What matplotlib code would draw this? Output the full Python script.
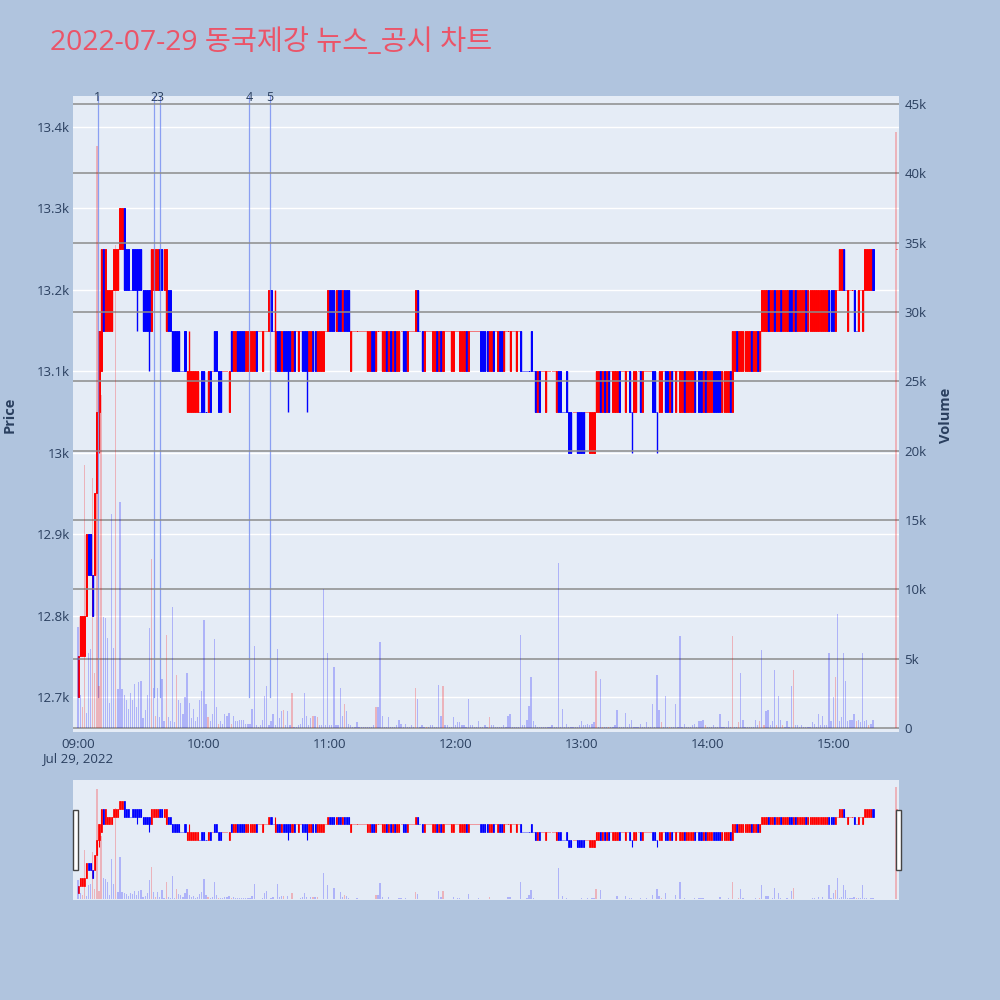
import matplotlib
matplotlib.use("Agg")
import matplotlib.pyplot as plt
from matplotlib.patches import Rectangle

plt.rcParams['font.family'] = ['Open Sans', 'Noto Sans CJK KR', 'DejaVu Sans']

# 1-minute candles from 09:00 (index = minutes after 09:00)
opens = [
    12700,12750,12750,12750,12800,12900,12900,12850,12850,12950,13050,13100,13250,13150,13150,13150,13150,13200,13200,13200,
    13250,13250,13300,13250,13250,13200,13250,13250,13250,13250,13250,13200,13200,13200,13200,13150,13200,13200,13200,13250,
    13250,13200,13150,13200,13200,13150,13150,13150,13150,13100,13100,13150,13050,13050,13050,13050,13050,13050,13050,13100,
    13100,13050,13050,13100,13100,13150,13150,13100,13100,13100,13100,13100,13050,13150,13100,13100,13150,13150,13150,13150,
    13100,13100,13100,13100,13100,13150,13150,13150,13100,13150,13150,13150,13200,13150,13100,13150,13150,13100,13150,13150,
    13150,13150,13100,13150,13150,13100,13150,13150,13150,13150,13100,13100,13150,13150,13100,13100,13100,13100,13150,13150,
    13200,13200,13200,13150,13200,13200,13150,13200,13200,13200,13100,13150,13150,13150,13150,13150,13150,13150,13100,13100,
    13150,13150,13100,13150,13150,13100,13100,13150,13100,13150,13100,13150,13100,13100,13150,13150,13150,13100,13150,13150,
    13150,13150,13200,13150,13150,13100,13150,13150,13150,13100,13100,13150,13100,13150,13100,13150,13150,13150,13100,13100,
    13150,13150,13100,13100,13100,13150,13100,13150,13150,13150,13150,13150,13150,13150,13150,13150,13100,13100,13150,13150,
    13100,13150,13150,13100,13150,13150,13100,13150,13150,13100,13150,13150,13100,13100,13100,13100,13150,13100,13100,13050,
    13100,13100,13100,13050,13100,13100,13100,13100,13050,13100,13100,13050,13050,13100,13050,13050,13050,13050,13050,13050,
    13050,13050,13050,13050,13000,13000,13000,13050,13050,13100,13050,13100,13050,13100,13100,13050,13050,13050,13100,13100,
    13100,13050,13100,13100,13050,13050,13050,13100,13100,13050,13100,13100,13100,13100,13100,13100,13050,13050,13050,13100,
    13100,13100,13050,13100,13100,13050,13100,13050,13050,13100,13050,13050,13050,13050,13100,13100,13100,13100,13050,13100,
    13050,13050,13050,13100,13100,13100,13100,13050,13050,13050,13050,13100,13050,13100,13150,13100,13100,13100,13100,13100,
    13100,13150,13100,13100,13150,13100,13150,13150,13150,13200,13150,13150,13200,13150,13150,13200,13150,13150,13150,13200,
    13200,13150,13200,13150,13150,13150,13150,13200,13150,13150,13150,13150,13150,13150,13150,13150,13150,13150,13200,13200,
    13200,13150,13200,13200,13200,13250,13200,13150,13200,13200,13200,13150,13150,13200,13150,13200,13200,13200,13200,13250,
]
closes = [
    12750,12800,12800,12800,12900,12850,12850,12800,12950,13050,13150,13250,13150,13250,13200,13200,13200,13250,13250,13250,
    13300,13300,13200,13200,13200,13200,13200,13200,13200,13200,13200,13150,13150,13150,13150,13250,13250,13250,13250,13200,
    13200,13250,13250,13150,13150,13100,13100,13100,13100,13100,13100,13100,13100,13100,13100,13100,13100,13100,13050,13050,
    13050,13050,13100,13050,13100,13100,13100,13050,13050,13100,13100,13100,13100,13100,13150,13150,13100,13100,13100,13100,
    13150,13150,13150,13150,13150,13100,13150,13150,13150,13150,13150,13200,13150,13150,13150,13100,13100,13150,13100,13100,
    13100,13100,13150,13100,13150,13150,13150,13100,13100,13100,13150,13150,13100,13100,13150,13150,13150,13150,13150,13200,
    13150,13150,13150,13200,13150,13150,13200,13150,13150,13150,13150,13150,13150,13150,13150,13150,13150,13150,13150,13150,
    13100,13100,13150,13150,13150,13150,13150,13100,13150,13100,13150,13100,13150,13150,13150,13100,13100,13150,13150,13150,
    13150,13200,13150,13150,13100,13150,13150,13150,13150,13150,13150,13100,13150,13100,13150,13150,13150,13150,13150,13150,
    13150,13150,13150,13150,13150,13100,13150,13150,13150,13150,13150,13150,13100,13100,13100,13100,13150,13150,13100,13150,
    13150,13100,13100,13150,13150,13150,13150,13150,13150,13150,13150,13100,13100,13100,13100,13100,13100,13100,13050,13100,
    13050,13100,13100,13100,13100,13100,13100,13100,13100,13050,13050,13050,13050,13050,13000,13000,13050,13050,13000,13000,
    13000,13000,13050,13050,13050,13050,13050,13100,13100,13050,13100,13050,13100,13050,13100,13100,13100,13100,13050,13100,
    13100,13100,13100,13050,13050,13100,13100,13100,13050,13100,13100,13100,13100,13100,13050,13050,13050,13100,13100,13100,
    13050,13050,13100,13050,13100,13100,13100,13100,13100,13050,13100,13100,13100,13100,13050,13100,13050,13050,13100,13050,
    13100,13100,13100,13050,13050,13050,13050,13100,13100,13100,13100,13050,13150,13150,13100,13150,13150,13150,13150,13150,
    13150,13100,13150,13150,13100,13150,13200,13200,13200,13150,13200,13200,13150,13200,13200,13150,13200,13200,13200,13150,
    13150,13200,13150,13200,13200,13200,13200,13150,13200,13200,13200,13200,13200,13200,13200,13200,13200,13200,13150,13150,
    13150,13200,13200,13250,13250,13200,13200,13200,13200,13200,13150,13150,13200,13200,13200,13250,13250,13250,13250,13200,
]
volumes = [
    7300,2400,1500,19000,1100,5400,5700,18000,4000,42000,3000,24000,8000,7900,6500,1800,15400,5800,34800,2800,
    16300,2800,2400,2000,1400,2500,2000,3200,1500,3300,3400,700,1300,2400,7200,12200,2900,900,2900,800,
    3500,500,6700,800,500,8700,400,3800,2000,1800,1000,2200,4000,1800,700,1400,500,800,2000,2700,
    7800,1700,800,500,1000,6400,1500,300,500,300,1000,900,1100,300,900,500,500,600,600,600,
    300,300,300,1400,5900,200,100,200,600,2300,3000,200,500,1000,200,5700,700,1200,1300,200,
    1200,200,2500,100,100,200,300,700,2500,900,200,700,900,900,800,200,200,10000,200,5400,
    200,200,4400,200,200,2900,900,1700,1200,300,200,100,100,400,100,100,100,100,100,100,
    100,200,1500,1500,6200,900,100,100,800,100,100,100,200,600,300,100,300,100,100,200,
    100,2900,2100,100,200,100,100,100,200,200,100,100,3100,900,3000,200,200,100,100,800,
    200,400,400,200,200,100,2100,200,200,100,100,500,100,100,200,100,800,200,200,100,
    100,100,100,200,100,900,1000,100,100,100,100,6700,200,200,600,1600,3700,500,200,100,
    100,100,100,100,100,100,200,100,100,11900,100,1400,100,300,100,100,100,100,100,200,
    500,200,200,300,200,300,400,4100,100,3500,100,100,100,100,100,100,200,1300,100,100,
    100,1100,100,300,600,100,100,100,300,100,100,400,100,100,1700,100,3800,1300,400,100,
    2300,100,100,100,100,1700,100,6600,100,300,100,100,100,200,300,100,500,500,600,200,
    100,100,100,200,100,100,1000,100,100,100,500,100,6600,100,100,400,4000,600,100,100,
    100,100,100,600,200,500,5600,200,1200,1300,200,500,4200,200,2300,600,200,100,500,100,
    3000,4200,200,200,100,200,100,100,100,100,400,300,100,1000,200,900,200,200,5400,500,
    2200,3700,8200,500,800,5400,3400,500,600,600,1000,500,600,400,5400,500,600,200,300,600,
]
# minutes whose volume bar is drawn red
vol_red = [2, 3, 7, 8, 9, 10, 11, 18, 35, 37, 42, 47, 62, 67, 73, 98, 102, 112, 114, 127,
           142, 161, 166, 174, 196, 247, 250, 253, 278, 282, 299, 312, 315, 325, 327, 333,
           336, 341, 361, 371, 377]
wick_low = {10: 13000, 28: 13150, 34: 13100, 100: 13050, 109: 13050, 264: 13000, 276: 13000}
wick_high = {53: 13150, 94: 13200}

# closing auction 15:30
close_min = 390
close_price = 13250
close_vol = 43000

# news / disclosure markers (minutes after 09:00)
news_min = [9.4, 36.2, 38.9, 81.7, 91.6]
news_lab = ['1', '2', '3', '4', '5']

price_ticks = [12700, 12800, 12900, 13000, 13100, 13200, 13300, 13400]
price_labels = ['12.7k', '12.8k', '12.9k', '13k', '13.1k', '13.2k', '13.3k', '13.4k']
vol_ticks = [0, 5000, 10000, 15000, 20000, 25000, 30000, 35000, 40000, 45000]
vol_labels = ['0', '5k', '10k', '15k', '20k', '25k', '30k', '35k', '40k', '45k']
time_ticks = [0, 60, 120, 180, 240, 300, 360]
time_labels = ['09:00\nJul 29, 2022', '10:00', '11:00', '12:00', '13:00', '14:00', '15:00']

RED = '#FF0000'
BLUE = '#0000FF'
TXT = '#2a3f5f'

n = min(len(opens), len(closes), len(volumes))
xs = list(range(n)) + [close_min]
o_all = opens[:n] + [close_price]
c_all = closes[:n] + [close_price]
v_all = volumes[:n] + [close_vol]
hi = [max(o, c) for o, c in zip(o_all, c_all)]
lo = [min(o, c) for o, c in zip(o_all, c_all)]
for k, v in wick_low.items():
    lo[k] = v
for k, v in wick_high.items():
    hi[k] = v

cols = []
prev_c = None
prev_col = RED
for o, c in zip(o_all, c_all):
    if c > o:
        col = RED
    elif c < o:
        col = BLUE
    elif prev_c is not None and c > prev_c:
        col = RED
    elif prev_c is not None and c < prev_c:
        col = BLUE
    else:
        col = prev_col
    cols.append(col)
    prev_c = c
    prev_col = col

vcols = []
for i in range(len(xs)):
    if i in vol_red or i == len(xs) - 1:
        vcols.append((1, 0, 0, 0.24))
    else:
        vcols.append((0, 0, 1, 0.24))

XMIN, XMAX = -2.4, 391.4
PMIN, PMAX = 12657, 13438
VMIN, VMAX = -290, 45580

fig = plt.figure(figsize=(10, 10), dpi=100)
fig.patch.set_facecolor('#B0C4DE')


def draw(ax, ax2, lw_body, lw_wick):
    ax.bar(xs, [c - o for o, c in zip(o_all, c_all)], bottom=o_all, width=0.5,
           color=cols, edgecolor=cols, linewidth=lw_body, zorder=3)
    ax.vlines(xs, lo, hi, colors=cols, linewidth=lw_wick, zorder=3)
    ax2.bar(xs, v_all, width=0.6, color=vcols, linewidth=0, zorder=3)
    ax.set_xlim(XMIN, XMAX)
    ax.set_ylim(PMIN, PMAX)
    ax2.set_ylim(VMIN, VMAX)


# main chart
ax = fig.add_axes([0.073, 0.268, 0.826, 0.636])
ax2 = ax.twinx()
ax.set_facecolor('#E5ECF6')
draw(ax, ax2, 0.7, 1.0)

for a in (ax, ax2):
    for s in a.spines.values():
        s.set_visible(False)

ax.set_yticks(price_ticks)
ax.set_yticklabels(price_labels)
ax.set_xticks(time_ticks)
ax.set_xticklabels(time_labels)
ax.tick_params(axis='both', length=0, colors=TXT, labelsize=9.5)
ax.tick_params(axis='y', pad=2)
ax.tick_params(axis='x', pad=4)
ax.grid(axis='y', color='white', linewidth=1.0)
ax.set_axisbelow(True)

ax2.set_yticks(vol_ticks)
ax2.set_yticklabels(vol_labels)
ax2.tick_params(axis='y', length=0, colors=TXT, labelsize=9.5, pad=4)
ax2.grid(axis='y', color='#8c8c8c', linewidth=1.1)
ax2.set_axisbelow(True)

# news lines
for m, lab in zip(news_min, news_lab):
    ax.plot([m, m], [12700, PMAX], color=(0.45, 0.55, 0.95), linewidth=0.9, alpha=0.8, zorder=4)
    ax.text(m, PMAX - 2, lab, ha='center', va='center', fontsize=9, color=TXT, zorder=5)

fig.text(0.05, 0.957, '2022-07-29 동국제강 뉴스_공시 차트', fontsize=20.4, color='#EB5468',
         ha='left', va='center', family=['Open Sans', 'Noto Sans CJK KR', 'DejaVu Sans'])
fig.text(0.010, 0.585, 'Price', rotation=90, ha='center', va='center', fontsize=10.5,
         fontweight='bold', color=TXT)
fig.text(0.946, 0.585, 'Volume', rotation=90, ha='center', va='center', fontsize=10.5,
         fontweight='bold', color=TXT)

# range slider
axs = fig.add_axes([0.073, 0.100, 0.826, 0.120])
axs2 = axs.twinx()
axs.set_facecolor('#E5ECF6')
draw(axs, axs2, 0.5, 0.8)
for a in (axs, axs2):
    a.set_xticks([])
    a.set_yticks([])
    for s in a.spines.values():
        s.set_visible(False)

for x0 in (73, 896):
    fig.patches.append(Rectangle((x0 / 1000, 1 - 870 / 1000), 4.5 / 1000, 60 / 1000,
                                 transform=fig.transFigure, facecolor='white',
                                 edgecolor='#444444', linewidth=1.0, zorder=10))

fig.savefig('out.png', dpi=100, facecolor=fig.get_facecolor())
